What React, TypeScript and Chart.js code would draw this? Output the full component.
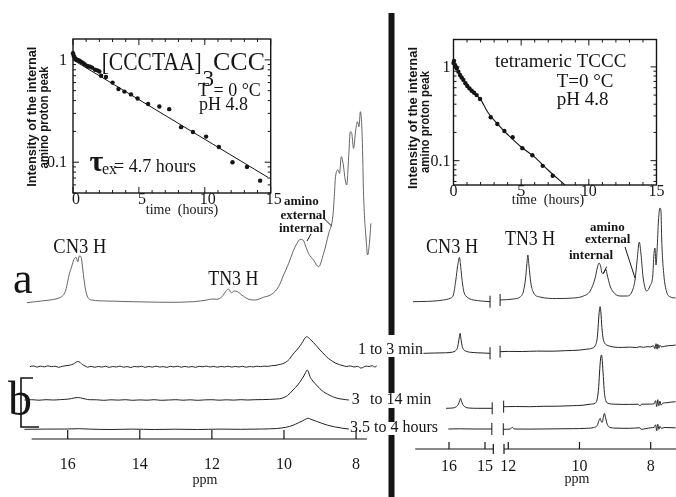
import React, { useEffect, useRef } from "react";
import { Chart, registerables } from "chart.js";
Chart.register(...registerables);

const SERIF = '"Liberation Serif","Times New Roman",serif';
const SANS = '"Liberation Sans",Arial,sans-serif';
const INK = "#151515";

type Pt = [number, number];

// ---------- inset data (time in hours, relative intensity) ----------
const leftInsetTimes = [0, 0.05, 0.12, 0.2, 0.33, 0.45, 0.53, 0.66, 0.78, 0.9, 1.09, 1.17, 1.29, 1.45, 1.67, 1.85, 2.0, 2.13, 2.5, 3.0, 3.45, 3.9, 4.4, 4.9, 5.7, 6.55, 7.3, 8.2, 9.1, 10.1, 11.07, 12.1, 13.2, 14.2];
const leftInsetValues = [1.16, 1.1, 1.06, 1.02, 1.0, 0.99, 0.97, 0.95, 0.93, 0.9, 0.87, 0.86, 0.86, 0.84, 0.8, 0.79, 0.77, 0.7, 0.68, 0.6, 0.52, 0.49, 0.46, 0.42, 0.37, 0.35, 0.33, 0.22, 0.197, 0.178, 0.141, 0.1, 0.09, 0.066];
const leftFitTimes = [0, 14.8];
const leftFitValues = [1.0, 0.071];

const rightInsetTimes = [0.0, 0.04, 0.11, 0.18, 0.24, 0.36, 0.48, 0.6, 0.73, 0.88, 1.02, 1.18, 1.34, 1.52, 1.71, 1.96, 2.75, 3.24, 3.76, 4.37, 5.09, 5.83, 6.59, 7.33];
const rightInsetValues = [1.1, 1.16, 1.05, 1.0, 0.966, 0.89, 0.82, 0.77, 0.725, 0.67, 0.625, 0.59, 0.557, 0.53, 0.5, 0.455, 0.29, 0.246, 0.207, 0.178, 0.136, 0.114, 0.088, 0.069];
const rightFitTimes = [0, 0.25, 0.5, 1, 1.5, 2, 2.5, 3, 3.5, 4, 5, 6, 7, 8.24];
const rightFitValues = [1.1, 0.95, 0.82, 0.63, 0.53, 0.45, 0.335, 0.27, 0.225, 0.19, 0.14, 0.109, 0.079, 0.055];

const hourMajorTicks = [0, 5, 10, 15];
const hourMinorTicks = [1, 2, 3, 4, 6, 7, 8, 9, 11, 12, 13, 14];
const valueMajorTicks = [1, 0.1];
const valueMajorLabels = ["1", "0.1"];
const valueMinorTicks = [0.05, 0.06, 0.07, 0.08, 0.09, 0.2, 0.3, 0.4, 0.5, 0.6, 0.7, 0.8, 0.9];

// ---------- NMR spectra (ppm, intensity above own baseline) ----------
const leftSpecA: Pt[] = [[17.13,-1],[16.9,0],[16.7,0.8],[16.49,1.7],[16.3,3],[16.17,5],[16.08,9],[16.03,15],[15.96,27],[15.89,35],[15.83,42],[15.77,44.4],[15.72,40],[15.68,45.7],[15.63,45],[15.58,31.7],[15.52,15],[15.46,5.7],[15.33,1.7],[14.92,0.7],[14.18,0],[13.25,-0.6],[12.51,0],[12.14,1.7],[12.0,2.7],[11.86,2.4],[11.72,5],[11.6,11],[11.54,12.7],[11.46,9],[11.38,10.7],[11.29,10],[11.17,6.7],[10.98,2.4],[10.8,1.7],[10.57,4.4],[10.33,7.7],[10.15,15],[10.01,26.7],[9.87,38.3],[9.75,50],[9.64,58.3],[9.55,62.3],[9.47,61.7],[9.41,56.7],[9.32,48.3],[9.18,41.7],[9.04,35],[8.9,48.3],[8.76,68.3],[8.64,86.7],[8.6,108.3],[8.57,125],[8.5,131.7],[8.46,128.3],[8.41,145],[8.36,138.3],[8.3,121.7],[8.26,116.7],[8.2,148.3],[8.16,170],[8.12,168.3],[8.07,153.3],[8.01,171.7],[7.96,180],[7.92,175],[7.88,190],[7.83,165],[7.79,105],[7.72,61.7],[7.68,46.7],[7.63,58.3],[7.59,78.3]];
const leftSpecB1: Pt[] = [[17.05,0],[16.95,0.8],[16.85,-0.4],[16.75,0.6],[16.65,-0.2],[16.55,0.9],[16.45,0],[16.35,0.5],[16.25,-0.6],[16.15,0.4],[16.05,1.0],[15.95,1.5],[15.85,2.6],[15.78,4.2],[15.72,5.2],[15.66,4.4],[15.6,2.2],[15.52,0.8],[15.45,-0.5],[15.35,0.4],[15.25,-0.6],[15.15,0.3],[15.05,-0.4],[14.95,0.5],[14.85,-0.7],[14.75,0.2],[14.65,-0.3],[14.55,0.6],[14.45,-0.5],[14.35,0.1],[14.25,-0.8],[14.15,0.3],[14.05,-0.2],[13.95,0.5],[13.85,-0.6],[13.75,0.2],[13.65,-0.4],[13.55,0.6],[13.45,-0.3],[13.35,0.1],[13.25,-0.7],[13.15,0.4],[13.05,-0.2],[12.95,0.5],[12.85,-0.5],[12.75,0.3],[12.65,-0.4],[12.55,0.2],[12.45,-0.6],[12.35,0.4],[12.25,-0.1],[12.15,0.6],[12.05,-0.3],[11.95,0.3],[11.85,-0.5],[11.75,0.2],[11.65,-0.2],[11.55,0.5],[11.45,-0.4],[11.35,0.3],[11.25,-0.3],[11.15,0.4],[11.05,-0.5],[10.95,0.2],[10.85,-0.2],[10.75,0.5],[10.65,0],[10.55,0.6],[10.45,0.3],[10.35,1.0],[10.25,1.2],[10.15,2.0],[10.05,2.8],[9.95,4.5],[9.85,7.5],[9.75,12.5],[9.65,16.5],[9.55,21],[9.48,25],[9.42,28.5],[9.37,30],[9.32,29],[9.26,27],[9.18,24],[9.1,21],[9.02,17.5],[8.94,14.5],[8.85,11],[8.76,8],[8.66,5.5],[8.56,3.4],[8.46,2],[8.36,1],[8.26,0.2],[8.16,0.8],[8.06,-0.3],[7.96,0.4],[7.86,-1.4],[7.8,-0.5],[7.72,0.6],[7.64,0.2],[7.55,1.0],[7.48,-0.4],[7.42,1.2]];
const leftSpecB2: Pt[] = [[17.2,0],[17.0,0.3],[16.8,-0.2],[16.6,0.3],[16.4,0],[16.2,0.4],[16.0,0.8],[15.9,1.4],[15.8,2.2],[15.7,2.4],[15.6,1.8],[15.5,0.9],[15.4,0.3],[15.2,0.2],[15.0,-0.3],[14.8,0.2],[14.6,-0.1],[14.4,0.3],[14.2,-0.3],[14.0,0.1],[13.8,-0.2],[13.6,0.3],[13.4,-0.3],[13.2,0],[13.0,0.3],[12.8,-0.2],[12.6,0.2],[12.4,-0.3],[12.2,0.1],[12.0,0.3],[11.8,-0.2],[11.6,0.2],[11.4,-0.1],[11.2,0.3],[11.0,0],[10.8,0.3],[10.6,0.4],[10.4,0.6],[10.2,1.0],[10.05,1.8],[9.9,4.5],[9.75,10],[9.62,15],[9.52,20],[9.45,24],[9.4,27.5],[9.36,30],[9.32,28],[9.28,23.5],[9.22,20],[9.14,16.5],[9.05,13],[8.95,9.5],[8.85,7],[8.72,4.5],[8.6,2.6],[8.45,1.2],[8.3,0.4],[8.2,0]];
const leftSpecB3: Pt[] = [[17.2,0],[16.6,0.2],[16.0,0.3],[15.7,0.6],[15.4,0.2],[14.8,-0.2],[14.2,0.2],[13.6,-0.2],[13.0,0.1],[12.4,-0.2],[11.8,0.2],[11.2,0],[10.6,0.3],[10.2,0.8],[9.95,2],[9.75,4],[9.6,6.5],[9.48,8.5],[9.38,10.5],[9.33,11],[9.25,10],[9.1,8],[8.95,6],[8.8,4.2],[8.6,2.5],[8.4,1.2],[8.2,0.3]];

const rightSpecA1: Pt[] = [[17.0,0],[16.6,0.3],[16.3,1],[16.16,1.7],[15.97,3.4],[15.88,6.7],[15.81,21.7],[15.76,36],[15.74,40],[15.71,44.4],[15.68,36.7],[15.65,26],[15.62,16.7],[15.58,9],[15.53,5.7],[15.42,2.8],[15.32,1.7],[15.1,0.7],[14.86,0]];
const rightSpecA2: Pt[] = [[12.23,0],[11.86,1],[11.67,3],[11.58,8],[11.52,20],[11.48,35],[11.45,45],[11.42,35],[11.37,18],[11.3,8],[11.11,3],[10.64,1.5],[10.17,2],[9.89,4],[9.7,9],[9.56,22],[9.5,32],[9.45,37],[9.4,33],[9.37,27],[9.33,26.5],[9.29,29],[9.26,30.7],[9.22,25],[9.14,14],[9.05,8],[8.86,4],[8.67,4],[8.53,8],[8.44,20],[8.38,40],[8.32,58],[8.27,45],[8.21,22],[8.11,9],[8.02,14],[7.94,25],[7.91,45],[7.88,52],[7.85,35],[7.82,50],[7.78,80],[7.74,92],[7.71,88],[7.69,60],[7.63,25],[7.55,8],[7.46,3.3],[7.3,2]];
const rightSpecB1a: Pt[] = [[16.71,0],[16.4,0.3],[16.1,0.5],[15.9,1.2],[15.82,2.5],[15.77,5],[15.74,10],[15.71,17],[15.69,20],[15.67,15],[15.64,8],[15.6,4],[15.52,2],[15.4,1],[15.2,0.5],[14.86,0]];
const rightSpecB1b: Pt[] = [[12.23,0],[12.0,0.3],[11.6,0.2],[11.2,0.6],[10.8,0.5],[10.4,1],[10.0,1.6],[9.8,2.5],[9.65,3.5],[9.56,6],[9.5,14],[9.47,28],[9.44,42],[9.42,45],[9.4,40],[9.37,24],[9.34,14],[9.3,9],[9.25,7],[9.15,5.5],[9.0,4.5],[8.8,4.3],[8.6,4.6],[8.4,4.2],[8.3,5],[8.2,4.4],[8.1,5],[8.0,4.8],[7.92,6],[7.88,3],[7.85,8],[7.82,2.5],[7.8,7.5],[7.77,3.5],[7.74,6.5],[7.7,4.8],[7.6,5.5],[7.5,6],[7.4,6.2],[7.3,6.7]];
const rightSpecB2a: Pt[] = [[16.08,0],[15.9,0.3],[15.8,1.5],[15.74,4],[15.7,8],[15.68,10],[15.66,8],[15.62,4],[15.56,1.5],[15.45,0.3],[15.2,0],[14.8,0]];
const rightSpecB2b: Pt[] = [[12.13,0],[11.8,0.2],[11.4,0],[11.0,0.4],[10.6,0.5],[10.2,1],[9.9,1.5],[9.7,2.5],[9.56,3.5],[9.5,8],[9.46,20],[9.43,38],[9.4,50],[9.38,51.7],[9.36,46],[9.33,30],[9.3,14],[9.26,6],[9.2,3.5],[9.0,2.5],[8.6,2.3],[8.35,2.5],[8.3,0.8],[8.26,2.5],[8.0,2.6],[7.9,3],[7.86,6],[7.83,0],[7.8,7],[7.77,1],[7.74,5.5],[7.71,1.5],[7.66,3.5],[7.55,4],[7.45,4.5],[7.3,5]];
const rightSpecB3a: Pt[] = [[16.02,0],[15.7,0.2],[15.3,0],[14.81,0]];
const rightSpecB3b: Pt[] = [[12.14,0],[11.95,0.3],[11.88,2],[11.84,0.3],[11.4,0.2],[10.8,0.4],[10.2,0.6],[9.8,1],[9.6,1.8],[9.5,4],[9.45,9],[9.42,11],[9.39,8],[9.36,7],[9.33,12],[9.3,16],[9.27,12],[9.22,5],[9.15,2],[9.0,1.2],[8.6,1],[8.3,1.5],[8.27,0],[8.0,1.5],[7.9,2],[7.86,4.5],[7.83,-1.5],[7.8,5],[7.77,0],[7.74,3],[7.7,1],[7.6,1.8],[7.3,1.5]];

const leftPpmTicks = [16, 14, 12, 10, 8];
const rightPpmTicks1 = [16, 15];
const rightPpmTicks2 = [12, 10, 8];
const rowLabels = ["1 to 3 min", "3", "to 14 min", "3.5 to 4 hours"];

// ---------- helpers ----------
function zip(xs: number[], ys: number[]) {
  return xs.map((x, i) => ({ x, y: ys[i] }));
}
function lineDs(pts: Pt[], base: number, color = INK, width = 1) {
  return {
    type: "line" as const,
    data: pts.map(([p, v]) => ({ x: p, y: base + v })),
    borderColor: color,
    borderWidth: width,
    pointRadius: 0,
    fill: false,
    cubicInterpolationMode: "monotone" as const,
    clip: false as any,
  };
}
function baseOptions(pad: any, xs: any, ys: any) {
  return {
    responsive: false,
    maintainAspectRatio: false,
    animation: false as const,
    devicePixelRatio: 1,
    events: [] as any[],
    layout: { padding: pad },
    plugins: { legend: { display: false }, tooltip: { enabled: false } },
    scales: { x: { ...xs, display: false }, y: { ...ys, display: false } },
  };
}
function seg(ctx: CanvasRenderingContext2D, x1: number, y1: number, x2: number, y2: number) {
  ctx.beginPath();
  ctx.moveTo(x1, y1);
  ctx.lineTo(x2, y2);
  ctx.stroke();
}
function txt(ctx: CanvasRenderingContext2D, s: string, x: number, y: number, font: string, align: CanvasTextAlign = "left", maxW?: number, baseline: CanvasTextBaseline = "alphabetic") {
  ctx.font = font;
  ctx.textAlign = align;
  ctx.textBaseline = baseline;
  ctx.fillStyle = INK;
  if (maxW) ctx.fillText(s, x, y, maxW);
  else ctx.fillText(s, x, y);
}

function insetPlugin(ox: number, oy: number, xLabelY: number, xLabelShift: number, yLabelRight: number, extra: (ctx: CanvasRenderingContext2D) => void) {
  return {
    id: "inset" + ox,
    afterDraw(chart: any) {
      const ctx: CanvasRenderingContext2D = chart.ctx;
      const xs = chart.scales.x, ys = chart.scales.y;
      const a = chart.chartArea;
      ctx.save();
      ctx.translate(-ox, -oy);
      const L = a.left + ox, R = a.right + ox, T = a.top + oy, B = a.bottom + oy;
      const X = (v: number) => xs.getPixelForValue(v) + ox;
      const Y = (v: number) => ys.getPixelForValue(v) + oy;
      ctx.strokeStyle = INK;
      ctx.lineWidth = 1.4;
      ctx.strokeRect(L, T, R - L, B - T);
      ctx.lineWidth = 1;
      for (const t of hourMajorTicks) { seg(ctx, X(t), B, X(t), B - 6); seg(ctx, X(t), T, X(t), T + 6); }
      for (const t of hourMinorTicks) { seg(ctx, X(t), B, X(t), B - 3); seg(ctx, X(t), T, X(t), T + 3); }
      for (const v of valueMajorTicks) { seg(ctx, L, Y(v), L + 6, Y(v)); seg(ctx, R, Y(v), R - 6, Y(v)); }
      for (const v of valueMinorTicks) {
        const y = Y(v);
        if (y < T || y > B) continue;
        seg(ctx, L, y, L + 3, y); seg(ctx, R, y, R - 3, y);
      }
      hourMajorTicks.forEach((t) => txt(ctx, String(t), X(t) + xLabelShift, xLabelY, `16px ${SERIF}`, "center", undefined, "middle"));
      valueMajorTicks.forEach((v, i) => txt(ctx, valueMajorLabels[i], yLabelRight, Y(v) + 1, `16px ${SERIF}`, "right", undefined, "middle"));
      extra(ctx);
      ctx.restore();
    },
  };
}

function rotText(ctx: CanvasRenderingContext2D, s: string, x: number, y: number, font: string, maxW?: number) {
  ctx.save();
  ctx.translate(x, y);
  ctx.rotate(-Math.PI / 2);
  txt(ctx, s, 0, 0, font, "center", maxW, "middle");
  ctx.restore();
}

// ---------- chart configs ----------
function leftInsetConfig() {
  return {
    type: "scatter" as const,
    data: {
      datasets: [
        { data: zip(leftInsetTimes, leftInsetValues), pointRadius: 2.2, pointBackgroundColor: INK, pointBorderWidth: 0, clip: false as any },
        { type: "line" as const, data: zip(leftFitTimes, leftFitValues), showLine: true, borderColor: INK, borderWidth: 1, pointRadius: 0, clip: false as any },
      ],
    },
    options: baseOptions({ left: 73, right: 29.3, top: 39, bottom: 32 }, { type: "linear", min: 0, max: 15 }, { type: "logarithmic", min: 0.05, max: 1.6 }),
    plugins: [
      insetPlugin(0, 0, 200, 3, 67, (ctx) => {
        txt(ctx, "[CCCTAA]", 101.7, 70, `25px ${SERIF}`, "left", 100);
        txt(ctx, "3", 202.5, 86, `23px ${SERIF}`);
        txt(ctx, "CCC", 213, 70, `26px ${SERIF}`, "left", 57);
        txt(ctx, "T = 0 °C", 198, 95.7, `18px ${SERIF}`);
        txt(ctx, "pH 4.8", 199, 110, `18px ${SERIF}`);
        txt(ctx, "τ", 89.5, 170.5, `bold 30px ${SERIF}`);
        txt(ctx, "ex", 102, 173.5, `16px ${SERIF}`);
        txt(ctx, "= 4.7 hours", 114, 171.5, `19px ${SERIF}`, "left", 82);
        txt(ctx, "time  (hours)", 182, 213.5, `14px ${SERIF}`, "center");
        rotText(ctx, "Intensity of the internal", 32.5, 116.7, `bold 13.5px ${SANS}`, 140);
        rotText(ctx, "amino proton peak", 44, 117.5, `bold 13.5px ${SANS}`, 102);
      }),
    ],
  };
}

function rightInsetConfig() {
  return {
    type: "scatter" as const,
    data: {
      datasets: [
        { data: zip(rightInsetTimes, rightInsetValues), pointRadius: 2.2, pointBackgroundColor: INK, pointBorderWidth: 0, clip: false as any },
        { type: "line" as const, data: zip(rightFitTimes, rightFitValues), showLine: true, borderColor: INK, borderWidth: 1.1, pointRadius: 0, tension: 0.3, clip: false as any },
      ],
    },
    options: baseOptions({ left: 53.5, right: 19.5, top: 39.5, bottom: 30 }, { type: "linear", min: 0, max: 15 }, { type: "logarithmic", min: 0.055, max: 1.96 }),
    plugins: [
      insetPlugin(400, 0, 192, 0, 450.5, (ctx) => {
        txt(ctx, "tetrameric TCCC", 495, 67.3, `19px ${SERIF}`, "left", 137);
        txt(ctx, "T=0 °C", 556.7, 86.7, `19px ${SERIF}`);
        txt(ctx, "pH 4.8", 556.7, 105, `19px ${SERIF}`);
        txt(ctx, "time  (hours)", 548, 204, `14px ${SERIF}`, "center");
        rotText(ctx, "Intensity of the internal", 413.3, 118, `bold 13.5px ${SANS}`, 142);
        rotText(ctx, "amino proton peak", 425, 122, `bold 13.5px ${SANS}`, 102);
      }),
    ],
  };
}

// left spectra: canvas at (0,0), 460x497; y scale 1 unit = 1 px
const leftRowBases = [137.3, 72.3, 39, 9.7];
function leftSpectraConfig() {
  const plugin = {
    id: "leftspec",
    afterDraw(chart: any) {
      const ctx: CanvasRenderingContext2D = chart.ctx;
      const xs = chart.scales.x;
      const B = chart.chartArea.bottom;
      ctx.save();
      ctx.strokeStyle = INK;
      ctx.lineWidth = 1.2;
      seg(ctx, xs.getPixelForValue(17.0), B, xs.getPixelForValue(7.7), B);
      for (const p of leftPpmTicks) {
        const x = xs.getPixelForValue(p);
        seg(ctx, x, B, x, B - 9);
        txt(ctx, String(p), x, 465, `16px ${SERIF}`, "center", undefined, "middle");
      }
      txt(ctx, "ppm", 205, 480, `14px ${SERIF}`, "center", undefined, "middle");
      // divider
      ctx.fillStyle = INK;
      ctx.fillRect(388.5, 13, 6, 484);
      ctx.fillStyle = "#fff";
      ctx.fillRect(385, 335, 13, 22);
      ctx.fillRect(385, 393, 13, 15);
      ctx.fillRect(385, 422, 13, 13);
      // row labels
      txt(ctx, rowLabels[0], 358, 353.5, `16px ${SERIF}`, "left", 65);
      txt(ctx, rowLabels[1], 351.7, 403.5, `16px ${SERIF}`);
      txt(ctx, rowLabels[2], 370, 403.5, `16px ${SERIF}`, "left", 72);
      txt(ctx, rowLabels[3], 350, 431.7, `16px ${SERIF}`, "left", 98);
      // a / b
      txt(ctx, "a", 13, 293, `44px ${SERIF}`);
      txt(ctx, "b", 8, 415, `48px ${SERIF}`);
      ctx.strokeStyle = INK;
      ctx.lineWidth = 1.6;
      ctx.beginPath();
      ctx.moveTo(33, 378); ctx.lineTo(21, 378); ctx.lineTo(21, 427); ctx.lineTo(39, 427);
      ctx.stroke();
      // peak labels
      txt(ctx, "CN3 H", 53.3, 253, `20px ${SERIF}`, "left", 53);
      txt(ctx, "TN3 H", 208.3, 285, `20px ${SERIF}`, "left", 50);
      txt(ctx, "amino", 284, 205, `bold 13px ${SERIF}`);
      txt(ctx, "external", 280.5, 218.5, `bold 13px ${SERIF}`);
      txt(ctx, "internal", 279, 231.5, `bold 13px ${SERIF}`);
      ctx.lineWidth = 1;
      seg(ctx, 323.3, 218, 331.7, 226);
      seg(ctx, 307, 241, 311, 234);
      ctx.restore();
    },
  };
  return {
    type: "line" as const,
    data: {
      datasets: [
        lineDs(leftSpecA, leftRowBases[0], "#555", 0.9),
        lineDs(leftSpecB1, leftRowBases[1], "#222", 1),
        lineDs(leftSpecB2, leftRowBases[2], "#222", 1),
        lineDs(leftSpecB3, leftRowBases[3], "#222", 1),
      ],
    },
    options: baseOptions({ left: 20.85, right: 80.5, top: 104, bottom: 58 }, { type: "linear", min: 7.35, max: 17.3, reverse: true }, { type: "linear", min: 0, max: 335 }),
    plugins: [plugin],
  };
}

// right spectra segments: canvases at top 150, y scale 1 unit = 1 px (0 at y=449)
const right1Bases = [147.3, 95.7, 40.7, 20];
const right2Bases = [149, 97.3, 42.3, 19.7];
function rightSegConfig(which: 1 | 2) {
  const ox = which === 1 ? 400 : 496;
  const oy = 150;
  const rows: Pt[][] = which === 1 ? [rightSpecA1, rightSpecB1a, rightSpecB2a, rightSpecB3a] : [rightSpecA2, rightSpecB1b, rightSpecB2b, rightSpecB3b];
  const bases = which === 1 ? right1Bases : right2Bases;
  const plugin = {
    id: "rseg" + which,
    afterDraw(chart: any) {
      const ctx: CanvasRenderingContext2D = chart.ctx;
      const xs = chart.scales.x, ys = chart.scales.y;
      const X = (v: number) => xs.getPixelForValue(v) + ox;
      const Y = (v: number) => ys.getPixelForValue(v) + oy;
      const B = chart.chartArea.bottom + oy;
      ctx.save();
      ctx.translate(-ox, -oy);
      ctx.strokeStyle = INK;
      ctx.lineWidth = 1.2;
      if (which === 1) {
        seg(ctx, X(16.94), B, X(14.77), B);
        seg(ctx, X(14.77), B - 5, X(14.77), B + 5);
      } else {
        seg(ctx, X(12.12), B, 676, B);
        seg(ctx, X(12.12), B - 5, X(12.12), B + 5);
      }
      const ticks = which === 1 ? rightPpmTicks1 : rightPpmTicks2;
      for (const p of ticks) {
        seg(ctx, X(p), B, X(p), B - 7);
        txt(ctx, String(p), X(p), 467, `16px ${SERIF}`, "center", undefined, "middle");
      }
      ctx.lineWidth = 1;
      rows.forEach((pts, i) => {
        const [p, v] = which === 1 ? pts[pts.length - 1] : pts[0];
        const x = X(p), y = Y(bases[i] + v);
        seg(ctx, x, y - 6, x, y + 6);
      });
      if (which === 1) {
        txt(ctx, "CN3 H", 426, 253.3, `20px ${SERIF}`, "left", 52);
      } else {
        txt(ctx, "ppm", 577, 479, `14px ${SERIF}`, "center", undefined, "middle");
        txt(ctx, "TN3 H", 505, 245, `20px ${SERIF}`, "left", 50);
        txt(ctx, "amino", 590, 230.5, `bold 13px ${SERIF}`);
        txt(ctx, "external", 585, 243, `bold 13px ${SERIF}`);
        txt(ctx, "internal", 569, 259, `bold 13px ${SERIF}`);
        seg(ctx, 625, 247, 635, 278);
        seg(ctx, 603.3, 273.3, 606.7, 266.7);
      }
      ctx.restore();
    },
  };
  const xr = which === 1 ? { type: "linear", min: 14.75, max: 17.0, reverse: true } : { type: "linear", min: 7.3, max: 12.3, reverse: true };
  const pad = which === 1 ? { left: 13, right: 6, top: 50, bottom: 48 } : { left: 1.6, right: 0.4, top: 50, bottom: 48 };
  return {
    type: "line" as const,
    data: {
      datasets: rows.map((pts, i) => lineDs(pts, bases[i], i === 0 ? "#333" : "#222", 1)),
    },
    options: baseOptions(pad, xr, { type: "linear", min: 0, max: 249 }),
    plugins: [plugin],
  };
}

function ChartBox({ left, top, width, height, build }: { left: number; top: number; width: number; height: number; build: () => any }) {
  const ref = useRef<HTMLCanvasElement>(null);
  useEffect(() => {
    const chart = new Chart(ref.current as HTMLCanvasElement, build());
    return () => chart.destroy();
  }, []);
  return <canvas ref={ref} width={width} height={height} style={{ position: "absolute", left, top, width, height }} />;
}

export default function App() {
  return (
    <div style={{ position: "absolute", left: 0, top: 0, width: 676, height: 497, background: "#fff", overflow: "hidden" }}>
      <ChartBox left={0} top={0} width={460} height={497} build={leftSpectraConfig} />
      <ChartBox left={400} top={150} width={100} height={347} build={() => rightSegConfig(1)} />
      <ChartBox left={496} top={150} width={180} height={347} build={() => rightSegConfig(2)} />
      <ChartBox left={0} top={0} width={300} height={225} build={leftInsetConfig} />
      <ChartBox left={400} top={0} width={276} height={215} build={rightInsetConfig} />
    </div>
  );
}
